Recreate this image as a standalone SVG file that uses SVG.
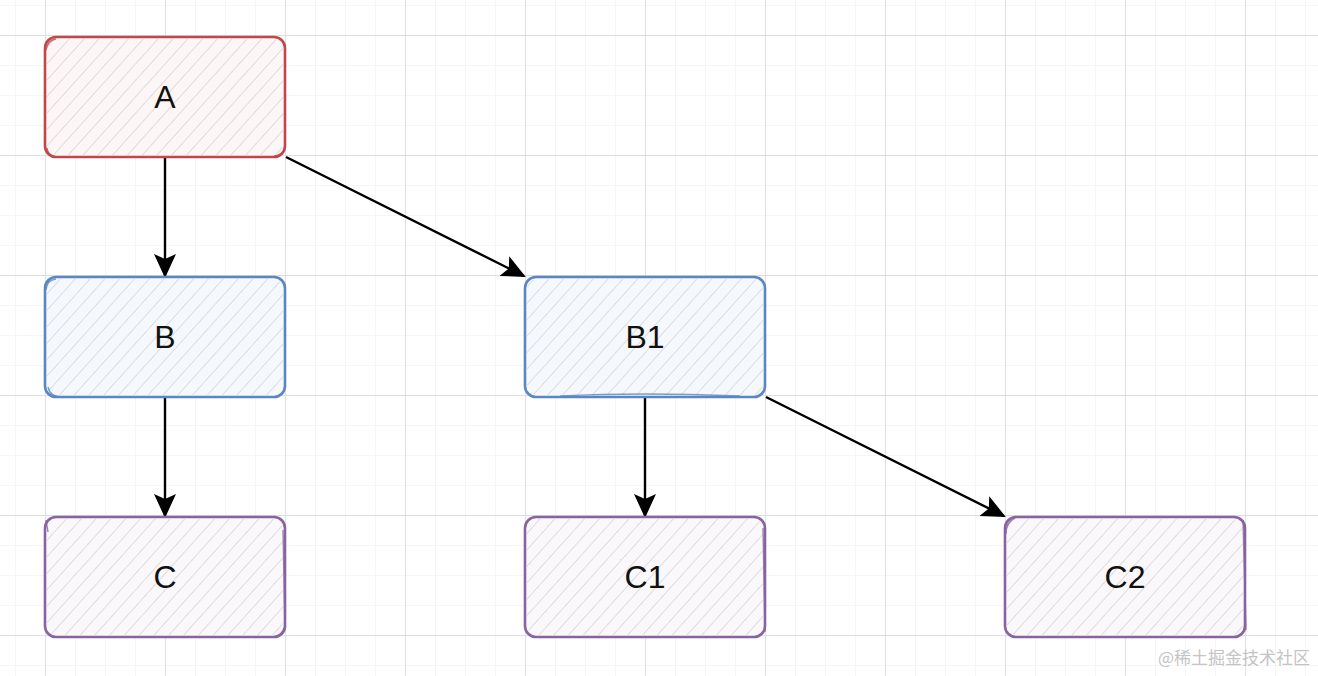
<svg xmlns="http://www.w3.org/2000/svg" width="1318" height="676" viewBox="0 0 1318 676">
<defs>
<pattern id="minor" width="30" height="30" patternUnits="userSpaceOnUse" x="15" y="5">
<path d="M0 0H30M0 0V30" fill="none" stroke="#ededf1" stroke-width="1"/>
</pattern>
<pattern id="major" width="120" height="120" patternUnits="userSpaceOnUse" x="45" y="35">
<path d="M0 0H120M0 0V120" fill="none" stroke="#d6d6db" stroke-width="1.3"/>
</pattern>
<pattern id="hatch" width="11" height="11" patternUnits="userSpaceOnUse" patternTransform="rotate(42)">
<line x1="0" y1="0" x2="0" y2="11" stroke="#c9c9c9" stroke-width="1.2"/>
</pattern>
<marker id="arr" viewBox="0 0 24 24" refX="22" refY="12" markerWidth="24" markerHeight="24" markerUnits="userSpaceOnUse" orient="auto">
<path d="M0 1 L24 12 L0 23 L5 12 Z" fill="#000"/>
</marker>
<style>
.lbl{font-family:"Liberation Sans",Arial,sans-serif;font-size:32px;fill:#111;text-anchor:middle;dominant-baseline:central}
.edge{fill:none;stroke:#000;stroke-width:2.4;marker-end:url(#arr)}
.red{stroke:#c0474a;fill:#fdf6f6}
.blue{stroke:#5a86c2;fill:#f5f9fd}
.purple{stroke:#8a62a2;fill:#faf8fb}
.box{stroke-width:2.6}
.sk{fill:none;stroke-width:1.4;opacity:0.8}
.ht{fill:url(#hatch);stroke:none}
</style>
</defs>
<rect width="1318" height="676" fill="#fff"/>
<rect width="1318" height="676" fill="url(#minor)"/>
<rect width="1318" height="676" fill="url(#major)"/>

<g id="connectors">
<path class="edge" d="M165 158 L165 276"/>
<path class="edge" d="M286 157 L524 276"/>
<path class="edge" d="M165 398 L165 516"/>
<path class="edge" d="M645 398 L645 516"/>
<path class="edge" d="M766 397 L1004 516"/>
</g>

<g id="node-A">
<rect class="box red" x="45" y="37" width="240" height="120" rx="11"/>
<rect class="ht" x="47" y="39" width="236" height="116" rx="10"/>
<path class="sk red" d="M56 39 Q48 40 46 50 M274 156 Q284 155 285 146 M47 148 Q48 156 56 157"/>
<text class="lbl" x="165" y="97">A</text>
</g>

<g id="node-B">
<rect class="box blue" x="45" y="277" width="240" height="120" rx="11"/>
<rect class="ht" x="47" y="279" width="236" height="116" rx="10"/>
<path class="sk blue" d="M56 279 Q47 280 46 290 M48 387 Q50 397 62 397"/>
<text class="lbl" x="165" y="337">B</text>
</g>

<g id="node-B1">
<rect class="box blue" x="525" y="277" width="240" height="120" rx="11"/>
<rect class="ht" x="527" y="279" width="236" height="116" rx="10"/>
<path class="sk blue" d="M560 396 Q640 392 740 396"/>
<text class="lbl" x="645" y="337">B1</text>
</g>

<g id="node-C">
<rect class="box purple" x="45" y="517" width="240" height="120" rx="11"/>
<rect class="ht" x="47" y="519" width="236" height="116" rx="10"/>
<path class="sk purple" d="M46 520 L48 532 M283 530 L285 630 M270 637 Q282 637 284 628"/>
<text class="lbl" x="165" y="577">C</text>
</g>

<g id="node-C1">
<rect class="box purple" x="525" y="517" width="240" height="120" rx="11"/>
<rect class="ht" x="527" y="519" width="236" height="116" rx="10"/>
<path class="sk purple" d="M763 528 L765 632"/>
<text class="lbl" x="645" y="577">C1</text>
</g>

<g id="node-C2">
<rect class="box purple" x="1005" y="517" width="240" height="120" rx="11"/>
<rect class="ht" x="1007" y="519" width="236" height="116" rx="10"/>
<path class="sk purple" d="M1015 518 Q1006 522 1006 534 M1243 520 L1246 630"/>
<text class="lbl" x="1125" y="577">C2</text>
</g>

<text x="1310" y="664" text-anchor="end" font-family="'Noto Sans CJK SC',sans-serif" font-size="17" fill="#c4c4c4">@稀土掘金技术社区</text>
</svg>
